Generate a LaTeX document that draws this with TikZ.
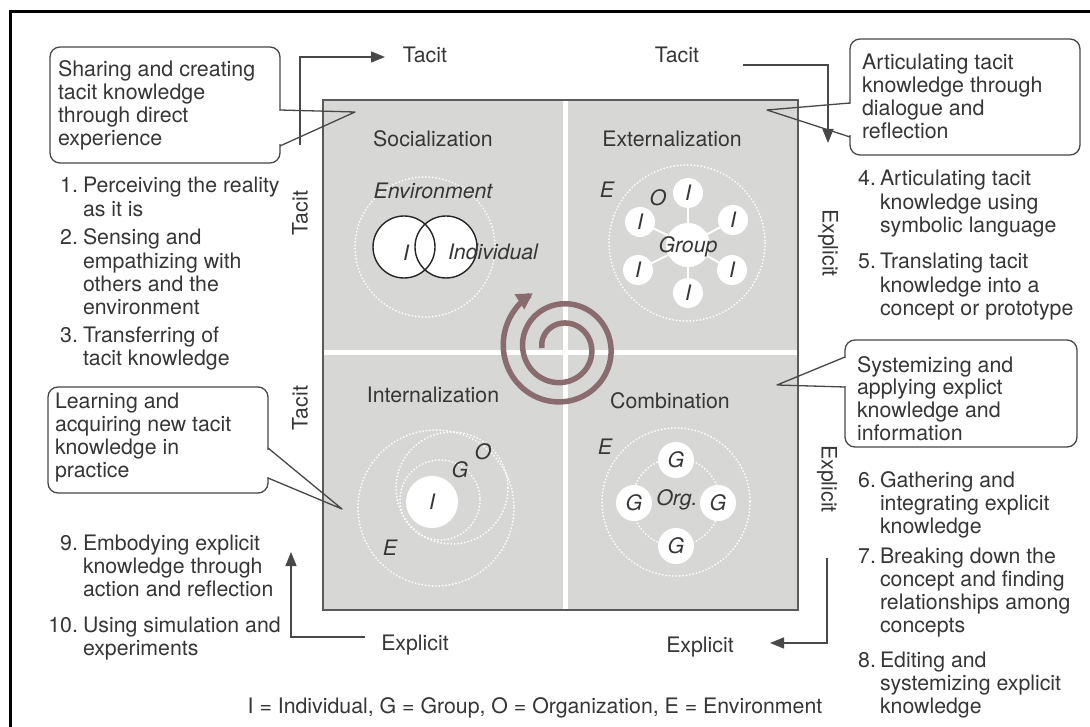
\documentclass[tikz,border=0pt]{standalone}
\usepackage{fontspec}
\setmainfont{TeX Gyre Heros}
\usetikzlibrary{arrows.meta,calc}
\definecolor{ink}{HTML}{363636}
\definecolor{wire}{HTML}{484848}
\definecolor{panelgray}{HTML}{D7D7D5}
\definecolor{paneledge}{HTML}{5A5A5A}
\definecolor{spiralc}{HTML}{8A6C6E}
% stacked lines whose baseline is the baseline of the first line
\newcommand\stacklines[1]{\vtop{\halign{##\hfil\cr#1\crcr}}}

\tikzset{
  body/.style={font=\fontsize{21.3}{23.3}\selectfont, text=ink, inner sep=0pt, outer sep=0pt},
  lbl/.style={body},
  num/.style={body, anchor=base east},
  itemtext/.style={body, anchor=base west},
  ctext/.style={body, font=\fontsize{21.4}{22.7}\selectfont, anchor=base west},
  tag/.style={body, font=\fontsize{21.3}{23.3}\selectfont\itshape},
  balloon/.style={draw=wire, line width=1.3pt, rounded corners=10pt, fill=white,
                  inner sep=0pt, outer sep=0pt, anchor=north west},
  pointer/.style={draw=wire, line width=1.3pt, line join=round},
  conn/.style={draw=wire, line width=1.3pt, -{Triangle[length=14pt,width=11pt]}},
  halo/.style={draw=white, line width=2pt, dash pattern=on 0.01pt off 3.4pt, line cap=round},
  blob/.style={circle, fill=white, inner sep=0pt, minimum size=#1},
}

\begin{document}
\begin{tikzpicture}[x=1pt,y=-1pt]
\useasboundingbox (0,0) rectangle (1090,727);
\fill[white] (0,0) rectangle (1090,727);
\draw[black, line width=3pt] (10,735) -- (10,12) -- (1095,12);

% ---------- central four-quadrant panel ----------
\node[draw=paneledge, fill=panelgray, line width=1.5pt, inner sep=0pt, outer sep=0pt,
      minimum width=475pt, minimum height=510pt, anchor=north west] (panel) at (323,100) {};
\draw[white, line width=5pt] (565,101) -- (565,609);
\draw[white, line width=5pt] (324,353) -- (797,353);

\node[lbl, anchor=base] (soc) at (433,147) {Socialization};
\node[lbl, anchor=base] (ext) at (672,147) {Externalization};
\node[lbl, anchor=base] (int) at (433,402) {Internalization};
\node[lbl, anchor=base] (com) at (670,408) {Combination};

% Socialization: two individuals in an environment
\draw[halo] (425,247) circle[radius=70];
\node[tag] (envS) at (433,191) {Environment};
\fill[white] (404,247) circle[radius=31] (446,247) circle[radius=31];
\draw[black!85, line width=1.4pt] (404,247) circle[radius=31] (446,247) circle[radius=31];
\node[tag] (iS) at (406,253) {I};
\node[tag, anchor=west] (indiv) at (448,252) {Individual};

% Externalization: individuals around a group
\draw[halo] (687,243) circle[radius=78];
\node[tag] (eE) at (607,190) {E};
\node[tag] (oE) at (658,198) {O};
\node[blob=44pt] (grp) at (688,245) {};
\node[blob=30pt, tag] (ia) at (688,193) {I};
\node[blob=30pt, tag] (ib) at (640,222) {I};
\node[blob=30pt, tag] (ic) at (733,220) {I};
\node[blob=30pt, tag] (id) at (638,270) {I};
\node[blob=30pt, tag] (ie) at (732,270) {I};
\node[blob=30pt, tag] (if) at (688,293) {I};
\foreach \k in {ia,ib,ic,id,ie,if} \draw[white, line width=2pt] (grp) -- (\k);
\node[tag, anchor=base] (grpl) at (688,253) {Group};

% Internalization: the individual inside group, organization, environment
\draw[halo] (436,508) circle[radius=78];
\draw[halo] (452,488) circle[radius=56];
\draw[halo] (440,500) circle[radius=40];
\node[blob=52pt, tag] (iI) at (432,502) {I};
\node[tag] (gI) at (460,470) {G};
\node[tag] (oI) at (483,452) {O};
\node[tag] (eI) at (390,548) {E};

% Combination: groups inside an organization
\draw[halo] (676,502) circle[radius=74];
\draw[halo] (676,502) circle[radius=44];
\node[tag] (eC) at (605,447) {E};
\node[blob=36pt, tag] (g1) at (676,460) {G};
\node[blob=36pt, tag] (g2) at (634,503) {G};
\node[blob=36pt, tag] (g3) at (718,503) {G};
\node[blob=36pt, tag] (g4) at (676,546) {G};
\node[tag] (org) at (677,500) {Org.};

% knowledge spiral
\draw[spiralc, line width=5.5pt, -{Triangle[length=16pt,width=17pt]}]
  plot[domain=0:782, samples=240, variable=\t]
  ({562+(20+0.0537*\t)*cos(180+\t)}, {348+(20+0.0537*\t)*sin(180+\t)});

% ---------- axis labels and conversion arrows ----------
\node[lbl, anchor=base] (tacitTL) at (425,63) {Tacit};
\node[lbl, anchor=base] (tacitTR) at (677,63) {Tacit};
\node[lbl, anchor=base] (explBL) at (415,650) {Explicit};
\node[lbl, anchor=base] (explBR) at (700,652) {Explicit};
\node[lbl, rotate=90] (tacitL1) at (300,213) {Tacit};
\node[lbl, rotate=90] (tacitL2) at (300,408) {Tacit};
\node[lbl, rotate=-90] (explR1) at (828,243) {Explicit};
\node[lbl, rotate=-90] (explR2) at (827,479) {Explicit};

\coordinate (tlfoot) at (300,145);
\coordinate (tlhead) at (385,57);
\draw[conn] (tlfoot) |- (tlhead);
\coordinate (trfoot) at (743,65);
\coordinate (trhead) at (828,143);
\draw[conn] (trfoot) -| (trhead);
\coordinate (brfoot) at (827,558);
\coordinate (brhead) at (770,643);
\draw[conn] (brfoot) |- (brhead);
\coordinate (blfoot) at (365,637);
\coordinate (blhead) at (291,552);
\draw[conn] (blfoot) -| (blhead);

% ---------- callouts ----------
\node[balloon, minimum width=230pt, minimum height=116pt] (b1) at (50,47) {};
\draw[white, line width=2.6pt] (280,111.5) -- (280,144.5);
\coordinate (tip1) at (355,112);
\draw[pointer] (b1.east |- 0,110) -- (tip1) -- (b1.east |- 0,146);
\node[ctext] (t1) at (58,77) {\stacklines{Sharing and creating\cr tacit knowledge\cr through direct\cr experience}};

\node[balloon, minimum width=230pt, minimum height=116pt] (b2) at (850,39) {};
\draw[white, line width=2.6pt] (850,104.5) -- (850,135.5);
\coordinate (tip2) at (767,110);
\draw[pointer] (b2.west |- 0,103) -- (tip2) -- (b2.west |- 0,137);
\node[ctext] (t2) at (862,70) {\stacklines{Articulating tacit\cr knowledge through\cr dialogue and\cr reflection}};

\node[balloon, minimum width=232pt, minimum height=107pt] (b3) at (845,340) {};
\draw[white, line width=2.6pt] (845,358.5) -- (845,385.5);
\coordinate (tip3) at (777,385);
\draw[pointer] (b3.west |- 0,357) -- (tip3) -- (b3.west |- 0,387);
\node[ctext] (t3) at (857,372) {\stacklines{Systemizing and\cr applying explict\cr knowledge and\cr information}};

\node[balloon, minimum width=220pt, minimum height=106pt] (b4) at (48,387) {};
\draw[white, line width=2.6pt] (268,449.5) -- (268,476.5);
\coordinate (tip4) at (342,509);
\draw[pointer] (b4.east |- 0,448) -- (tip4) -- (b4.east |- 0,478);
\node[itemtext] (t4) at (55,408) {\stacklines{Learning and\cr acquiring new tacit\cr knowledge in\cr practice}};

% ---------- numbered lists ----------
\node[num] (n1) at (78,193) {1.};
\node[itemtext] (i1) at (83,193) {\stacklines{Perceiving the reality\cr as it is}};
\node[num] (n2) at (78,245) {2.};
\node[itemtext] (i2) at (83,245) {\stacklines{Sensing and\cr empathizing with\cr others and the\cr environment}};
\node[num] (n3) at (78,342) {3.};
\node[itemtext] (i3) at (83,342) {\stacklines{Transferring of\cr tacit knowledge}};
\node[num] (n9) at (78,550) {9.};
\node[itemtext] (i9) at (83,550) {\stacklines{Embodying explicit\cr knowledge through\cr action and reflection}};
\node[num] (n10) at (78,632) {10.};
\node[itemtext] (i10) at (83,632) {\stacklines{Using simulation and\cr experiments}};

\node[num] (n4) at (876,186) {4.};
\node[itemtext] (i4) at (880,186) {\stacklines{Articulating tacit\cr knowledge using\cr symbolic language}};
\node[num] (n5) at (876,269) {5.};
\node[itemtext] (i5) at (880,269) {\stacklines{Translating tacit\cr knowledge into a\cr concept or prototype}};
\node[num] (n6) at (876,487) {6.};
\node[itemtext] (i6) at (880,487) {\stacklines{Gathering and\cr integrating explicit\cr knowledge}};
\node[num] (n7) at (876,563) {7.};
\node[itemtext] (i7) at (880,563) {\stacklines{Breaking down the\cr concept and finding\cr relationships among\cr concepts}};
\node[num] (n8) at (876,667) {8.};
\node[itemtext] (i8) at (880,667) {\stacklines{Editing and\cr systemizing explicit\cr knowledge}};

% ---------- key ----------
\node[lbl, anchor=base] (legend) at (535,713) {I = Individual, G = Group, O = Organization, E = Environment};
\end{tikzpicture}
\end{document}
